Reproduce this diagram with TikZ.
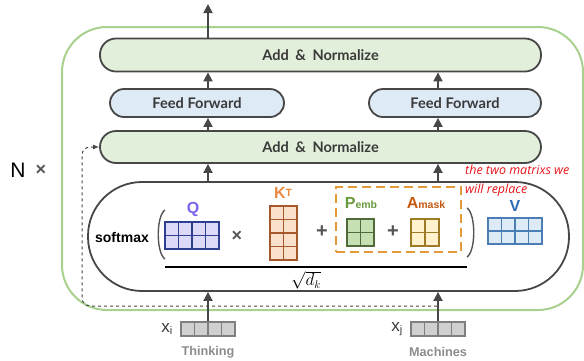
\documentclass[tikz,border=0pt]{standalone}
\usepackage{fontspec}
\setmainfont{Liberation Sans}
\newfontfamily\latofont{Lato}
\newfontfamily\notefont{Open Sans}
\usetikzlibrary{arrows.meta,calc}
\definecolor{dgray}{HTML}{474747}
\definecolor{tgray}{HTML}{3A3A3A}
\definecolor{outg}{HTML}{A9D18E}
\definecolor{addfill}{HTML}{E2EFDA}
\definecolor{fffill}{HTML}{DEEAF6}
\definecolor{qfill}{HTML}{DCDAF8}
\definecolor{qdraw}{HTML}{2F3F8F}
\definecolor{qlab}{HTML}{7E63F0}
\definecolor{kfill}{HTML}{FBE0CC}
\definecolor{kdraw}{HTML}{A5582A}
\definecolor{klab}{HTML}{EB8A3E}
\definecolor{pfill}{HTML}{C6E0B4}
\definecolor{pdraw}{HTML}{4F6B3A}
\definecolor{plab}{HTML}{6A9A3E}
\definecolor{afill}{HTML}{FFF2CC}
\definecolor{adraw}{HTML}{9C7A26}
\definecolor{alab}{HTML}{C55A11}
\definecolor{vfill}{HTML}{DDEBF7}
\definecolor{vdraw}{HTML}{4A7EB5}
\definecolor{vlab}{HTML}{2E6DB4}
\definecolor{dashor}{HTML}{E59A3A}
\definecolor{infill}{HTML}{D0D0D0}
\definecolor{indraw}{HTML}{7F7F7F}
\definecolor{wordgray}{HTML}{8C8C8C}
\definecolor{notered}{HTML}{E8141A}
\definecolor{opgray}{HTML}{555555}
\newcommand\myvlines[3]{\foreach \f in {#2} \draw[#3] ($(#1.north west)!\f!(#1.north east)$) -- ($(#1.south west)!\f!(#1.south east)$);}
\newcommand\myhlines[3]{\foreach \f in {#2} \draw[#3] ($(#1.north west)!\f!(#1.south west)$) -- ($(#1.north east)!\f!(#1.south east)$);}
\newcommand\smalltxt[1]{{\fontsize{10.5}{12}\selectfont #1}}
\begin{document}
\begin{tikzpicture}[x=1pt,y=-1pt,
  box/.style={draw=dgray, line width=1.8pt, inner sep=0, font=\latofont\bfseries\fontsize{14.6}{16}\selectfont, text=tgray},
  arr/.style={draw=dgray, line width=1.8pt, -{Triangle[length=9pt,width=9pt]}},
  mat/.style={line width=1.1pt, inner sep=0},
  lab/.style={font=\bfseries\fontsize{16}{18}\selectfont, inner sep=0},
  op/.style={font=\bfseries\fontsize{20}{22}\selectfont, text=opgray, inner sep=0},
  inbox/.style={fill=infill, draw=indraw, line width=1.1pt, inner sep=0, minimum width=54, minimum height=14},
  word/.style={font=\bfseries\fontsize{12.7}{14}\selectfont, text=wordgray, inner sep=0},
  xlab/.style={font=\fontsize{17}{18}\selectfont, text=tgray, inner sep=0},
]
\useasboundingbox (0,0) rectangle (584,360);
% outer repeated block
\draw[outg, line width=2pt, rounded corners=45] (62,27) rectangle (583,310);
\node[font=\fontsize{21}{22}\selectfont, inner sep=0] (N) at (18,170) {N};
\node[op, font=\bfseries\fontsize{18}{20}\selectfont] (times) at (41,170) {×};
% columns
\coordinate (c1) at (208,0);
\coordinate (c2) at (438,0);
% boxes
\node[box, fill=addfill, minimum width=441, minimum height=33, rounded corners=16] (add1) at (320.5,55) {Add\hspace{0.45em}\&\hspace{0.45em}Normalize};
\node[box, fill=fffill, minimum width=174, minimum height=28, rounded corners=14] (ffl) at (197,103) {Feed Forward};
\node[box, fill=fffill, minimum width=172, minimum height=28, rounded corners=14] (ffr) at (455,103) {Feed Forward};
\node[box, fill=addfill, minimum width=441, minimum height=32, rounded corners=16] (add2) at (320.5,147) {Add\hspace{0.45em}\&\hspace{0.45em}Normalize};
\node[box, fill=white, minimum width=481, minimum height=109, rounded corners=54] (sm) at (328.5,236.5) {};
% top output arrow
\coordinate (top) at (208,4);
\draw[arr] (c1 |- add1.north) -- (top);
% arrows between boxes
\draw[arr] (c1 |- ffl.north) -- (c1 |- add1.south);
\draw[arr] (c2 |- ffr.north) -- (c2 |- add1.south);
\draw[arr] (c1 |- add2.north) -- (c1 |- ffl.south);
\draw[arr] (c2 |- add2.north) -- (c2 |- ffr.south);
\draw[arr] (c1 |- sm.north) -- (c1 |- add2.south);
\draw[arr] (c2 |- sm.north) -- (c2 |- add2.south);
% inputs
\node[inbox] (xi) at (208,329) {};
\node[inbox] (xj) at (438,329) {};
\myvlines{xi}{0.25,0.5,0.75}{indraw, line width=1.1pt}
\myvlines{xj}{0.25,0.5,0.75}{indraw, line width=1.1pt}
\draw[arr] (c1 |- xi.north) -- (c1 |- sm.south);
\draw[arr] (c2 |- xj.north) -- (c2 |- sm.south);
\node[xlab] (xil) at (167,329) {x\textsubscript{\fontsize{11}{12}\selectfont i}};
\node[xlab] (xjl) at (397,329) {x\textsubscript{\fontsize{11}{12}\selectfont j}};
\node[word] (w1) at (208,352) {Thinking};
\node[word] (w2) at (438,352) {Machines};
% residual dashed
\coordinate (rs) at (437,306);
\draw[dgray, line width=1pt, dashed, rounded corners=8, -{Latex[length=6pt,width=5pt]}] (rs) -- (82,306) -- (82,147) -- (add2.west);
% softmax content
\node[lab, font=\bfseries\fontsize{14}{16}\selectfont] (smx) at (122,237) {softmax};
\coordinate (lp1) at (165,210);
\coordinate (lp2) at (165,259);
\draw[opgray, line width=1.4pt] (lp1) .. controls (156,216) and (156,253) .. (lp2);
\coordinate (rp1) at (467,208);
\coordinate (rp2) at (467,257);
\draw[opgray, line width=1.4pt] (rp1) .. controls (476,214) and (476,251) .. (rp2);
% Q
\node[mat, fill=qfill, draw=qdraw, minimum width=54, minimum height=27] (Q) at (192,235.5) {};
\myvlines{Q}{0.25,0.5,0.75}{qdraw, line width=1.1pt}
\myhlines{Q}{0.5}{qdraw, line width=1.1pt}
\node[lab, text=qlab] (Ql) at (193,209) {Q};
\node[op, font=\bfseries\fontsize{18}{20}\selectfont] (mul) at (237,236) {×};
% K^T
\node[mat, fill=kfill, draw=kdraw, minimum width=27, minimum height=54] (K) at (283.5,233) {};
\myvlines{K}{0.5}{kdraw, line width=1.1pt}
\myhlines{K}{0.25,0.5,0.75}{kdraw, line width=1.1pt}
\node[lab, text=klab] (Kl) at (283,193) {K\raisebox{2pt}{\smalltxt{T}}};
\node[op] (plus1) at (322,232) {+};
% dashed orange group
\node[draw=dashor, line width=2pt, dash pattern=on 9pt off 5pt, minimum width=125, minimum height=65, inner sep=0] (grp) at (398.5,219.5) {};
% P_emb
\node[mat, fill=pfill, draw=pdraw, minimum width=27, minimum height=27] (P) at (360.5,232.5) {};
\myvlines{P}{0.5}{pdraw, line width=1.1pt}
\myhlines{P}{0.5}{pdraw, line width=1.1pt}
\node[lab, text=plab] (Pl) at (361,203) {P\smalltxt{emb}};
\node[op] (plus2) at (393,232) {+};
% A_mask
\node[mat, fill=afill, draw=adraw, minimum width=28, minimum height=27] (A) at (425,232.5) {};
\myvlines{A}{0.5}{adraw, line width=1.1pt}
\myhlines{A}{0.5}{adraw, line width=1.1pt}
\node[lab, text=alab] (Al) at (426,203) {A\smalltxt{mask}};
% V
\node[mat, fill=vfill, draw=vdraw, minimum width=54, minimum height=26] (V) at (515,231) {};
\myvlines{V}{0.25,0.5,0.75}{vdraw, line width=1.1pt}
\myhlines{V}{0.5}{vdraw, line width=1.1pt}
\node[lab, text=vlab] (Vl) at (515,206) {V};
% fraction
\coordinate (fr1) at (165,267);
\coordinate (fr2) at (467,267);
\draw[black, line width=1.6pt] (fr1) -- (fr2);
\node[inner sep=0, font=\fontsize{16}{18}\selectfont] (dk) at (306,280) {$\sqrt{d_k}$};
% note
\node[anchor=north west, align=left, text=notered, font=\notefont\itshape\fontsize{12.5}{16}\selectfont, inner sep=0] (note) at (465,165) {the two matrixs we\\[3pt]will replace};
\end{tikzpicture}
\end{document}
